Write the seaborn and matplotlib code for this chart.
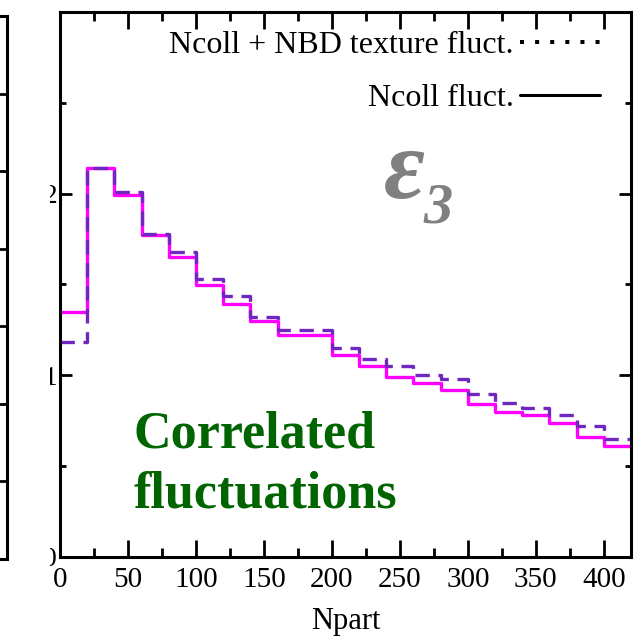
import numpy as np
import pandas as pd
import matplotlib
matplotlib.use("Agg")
import matplotlib.pyplot as plt
import seaborn as sns
from matplotlib.lines import Line2D
from matplotlib.ticker import MultipleLocator, FixedLocator
from matplotlib.transforms import Bbox

# ---- data ----
bin_edges = [0, 20, 40, 60, 80, 100, 120, 140, 160, 180, 200, 220, 240,
             260, 280, 300, 320, 340, 360, 380, 400, 420]
ncoll_fluct = [0.135, 0.214, 0.199, 0.177, 0.165, 0.150, 0.139, 0.130, 0.122,
               0.122, 0.111, 0.105, 0.099, 0.096, 0.092, 0.084, 0.080, 0.078,
               0.074, 0.066, 0.061]
nbd_fluct = [0.1185, 0.214, 0.201, 0.178, 0.168, 0.153, 0.1435, 0.132, 0.125,
             0.125, 0.115, 0.109, 0.105, 0.100, 0.098, 0.090, 0.085, 0.082,
             0.078, 0.072, 0.065]
x_ticks = [0, 50, 100, 150, 200, 250, 300, 350, 400]
y_ticks = [0.0, 0.1, 0.2]
y_tick_labels = ["0", "0.1", "0.2"]
legend_labels = ["Ncoll + NBD texture fluct.", "Ncoll fluct."]
x_label = "Npart"

sns.set_theme(style="ticks")
plt.rcParams["font.family"] = ["Liberation Serif", "DejaVu Serif"]
for k in ["text.color", "axes.labelcolor", "xtick.color", "ytick.color",
          "axes.edgecolor"]:
    plt.rcParams[k] = "black"

W, H = 635, 639
fig = plt.figure(figsize=(W / 100, H / 100), dpi=100)

def px_axes(x0, y0, x1, y1):
    return fig.add_axes([x0 / W, (H - y1) / H, (x1 - x0) / W, (y1 - y0) / H])

# partial neighbour panel on the left
axl = px_axes(-200, 16, 7, 559)
axl.set_xlim(0, 1)
axl.set_ylim(0, 7)
axl.set_xticks([])
axl.yaxis.tick_right()
axl.set_yticks(range(8))
axl.set_yticklabels([])
axl.tick_params(axis="y", direction="in", length=5.5, width=2.0, right=True, left=False)
for s in axl.spines.values():
    s.set_linewidth(2.2)
    s.set_color("black")

# main panel
ax = px_axes(60, 12, 631, 557)

def step_df(vals):
    return pd.DataFrame({"Npart": bin_edges, "eps": list(vals) + [vals[-1]]})

sns.lineplot(data=step_df(ncoll_fluct), x="Npart", y="eps", ax=ax,
             drawstyle="steps-post", estimator=None, sort=False,
             color="#FF00FF", lw=2.4)
sns.lineplot(data=step_df(nbd_fluct), x="Npart", y="eps", ax=ax,
             drawstyle="steps-post", estimator=None, sort=False,
             color="#7027C0", lw=2.4, linestyle=(0, (4.3, 2.6)))

ax.set_xlim(0, 420)
ax.set_ylim(0, 0.3)
ax.xaxis.set_major_locator(FixedLocator(x_ticks))
ax.xaxis.set_minor_locator(MultipleLocator(25))
ax.yaxis.set_major_locator(FixedLocator(y_ticks))
ax.yaxis.set_minor_locator(MultipleLocator(0.05))
ax.set_yticklabels(y_tick_labels)
ax.tick_params(axis="x", which="major", direction="in", length=12.2, width=2.0,
               top=True, bottom=True, labelsize=21, pad=7.5, colors="black")
ax.tick_params(axis="x", which="minor", direction="in", length=6.5, width=2.0,
               top=True, bottom=True)
ax.tick_params(axis="y", which="major", direction="in", length=8.6, width=2.0,
               left=True, right=True, labelsize=20, pad=2.0, colors="black")
ax.tick_params(axis="y", which="minor", direction="in", length=4.3, width=2.0,
               left=True, right=True)
for s in ax.spines.values():
    s.set_linewidth(2.2)
    s.set_color("black")
ax.set_xlabel(x_label, fontsize=22, labelpad=10, color="black")
ax.set_ylabel("")

handles = [Line2D([], [], color="black", lw=2.9, linestyle=(0, (1, 2.75))),
           Line2D([], [], color="black", lw=2.2)]
ax.legend(handles, legend_labels, loc="upper right", frameon=False,
          markerfirst=False, fontsize=23, handlelength=2.5, handletextpad=0.2,
          labelspacing=0.72, borderpad=0, borderaxespad=0, labelcolor="black",
          bbox_to_anchor=((600 - 60) / 571, (557 - 31) / 545))

ax.text(238, 0.1976, "ε", fontsize=72, fontweight="bold", fontstyle="italic",
        color="#808080", va="baseline", ha="left")
ax.text(267.5, 0.1844, "3", fontsize=42, fontweight="bold", fontstyle="italic",
        color="#808080", va="baseline", ha="left")

ax.text(53.8, 0.0605, "Correlated", fontsize=37.5, fontweight="bold",
        color="#006400", va="baseline", ha="left")
ax.text(53.8, 0.027, "fluctuations", fontsize=37.5, fontweight="bold",
        color="#006400", va="baseline", ha="left")

# y tick labels are cut off by the neighbouring panel in the reference
fig.canvas.draw()
clip = Bbox.from_extents(50, 0, 300, H)
for lbl in ax.get_yticklabels():
    lbl.set_clip_on(True)
    lbl.set_clip_box(clip)

fig.savefig("out.png", dpi=100, facecolor="white")
